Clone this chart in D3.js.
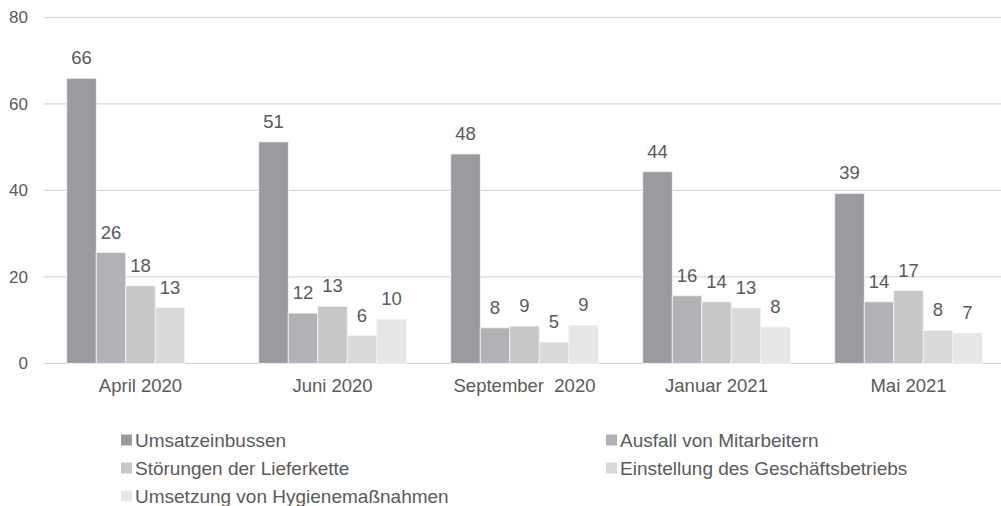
<!DOCTYPE html>
<html>
<head>
<meta charset="utf-8">
<script src="https://d3js.org/d3.v7.min.js"></script>
<style>
  body { margin: 0; background: #fff; }
  svg text { font-family: "Liberation Sans", Arial, sans-serif; fill: #5a5a5a; }
</style>
</head>
<body>
<div id="my_dataviz"></div>
<script>
// categories (note the double space in "September  2020", as in the source)
var categories = ["April 2020", "Juni 2020", "September  2020", "Januar 2021", "Mai 2021"];
var seriesNames = ["Umsatzeinbussen", "Ausfall von Mitarbeitern", "Störungen der Lieferkette",
                   "Einstellung des Geschäftsbetriebs", "Umsetzung von Hygienemaßnahmen"];

// values (labels show them rounded)
var umsatz      = [65.9, 51.2, 48.4, 44.3, 39.3];
var ausfall     = [25.6, 11.6, 8.2, 15.6, 14.2];
var stoerung    = [17.9, 13.2, 8.6, 14.2, 16.8];
var einstellung = [12.9, 6.4, 4.9, 12.8, 7.6];
var hygiene     = [null, 10.2, 8.8, 8.4, 7.0];

var yTicks = [0, 20, 40, 60, 80];
var colors = ["#9a9b9f", "#b1b2b5", "#c6c7c9", "#d8d9db", "#e6e7e9"];

var allSeries = [umsatz, ausfall, stoerung, einstellung, hygiene];

var width = 1001, height = 506;

var svg = d3.select("#my_dataviz")
  .append("svg")
  .attr("width", width)
  .attr("height", height);

// scales
var x0 = d3.scaleBand()
  .domain(categories)
  .range([44.5, 1004.5])
  .paddingInner(0.232)
  .paddingOuter(0.116);

var x1 = d3.scaleBand()
  .domain(seriesNames)
  .range([0, x0.bandwidth()])
  .padding(0);

var y = d3.scaleLinear()
  .domain([0, 80])
  .range([363.3, 17.3]);

// gridlines
svg.append("g")
  .selectAll("line")
  .data(yTicks)
  .enter()
  .append("line")
  .attr("x1", 44)
  .attr("x2", width)
  .attr("y1", function(d) { return y(d); })
  .attr("y2", function(d) { return y(d); })
  .style("stroke", "#d9d9d9")
  .style("stroke-width", 1.3);

// y axis labels
var yAxis = svg.append("g")
  .attr("transform", "translate(28,0)")
  .call(d3.axisLeft(y).tickValues(yTicks).tickSize(0).tickPadding(0));
yAxis.select(".domain").remove();
yAxis.selectAll("text")
  .style("font-size", "17px")
  .style("fill", "#5a5a5a")
  .style("font-family", "'Liberation Sans', Arial, sans-serif");

// x axis labels
var xAxis = svg.append("g")
  .attr("transform", "translate(0," + y(0) + ")")
  .call(d3.axisBottom(x0).tickSize(0).tickPadding(16));
xAxis.select(".domain").remove();
xAxis.selectAll("text")
  .style("font-size", "18.5px")
  .style("fill", "#5a5a5a")
  .style("white-space", "pre")
  .style("font-family", "'Liberation Sans', Arial, sans-serif");

// build flat rows
var rows = [];
categories.forEach(function(c, i) {
  seriesNames.forEach(function(s, j) {
    if (allSeries[j][i] != null) rows.push({cat: c, series: s, idx: j, value: allSeries[j][i]});
  });
});

// bars
svg.append("g")
  .selectAll("rect")
  .data(rows)
  .enter()
  .append("rect")
  .attr("x", function(d) { return x0(d.cat) + x1(d.series); })
  .attr("y", function(d) { return y(d.value); })
  .attr("width", x1.bandwidth())
  .attr("height", function(d) { return y(0) - y(d.value); })
  .style("fill", function(d) { return colors[d.idx]; })
  .style("stroke", "#f4f4f4")
  .style("stroke-width", 0.8);

// value labels
svg.append("g")
  .selectAll("text")
  .data(rows)
  .enter()
  .append("text")
  .attr("x", function(d) { return x0(d.cat) + x1(d.series) + x1.bandwidth() / 2; })
  .attr("y", function(d) { return y(d.value) - 14; })
  .attr("text-anchor", "middle")
  .style("font-size", "18.5px")
  .text(function(d) { return Math.round(d.value); });

// legend
var legendPos = [[121, 440], [606, 440], [121, 468], [606, 468], [121, 496]];
var legend = svg.append("g")
  .selectAll("g")
  .data(seriesNames)
  .enter()
  .append("g")
  .attr("transform", function(d, i) { return "translate(" + legendPos[i][0] + "," + legendPos[i][1] + ")"; });

legend.append("rect")
  .attr("x", 0)
  .attr("y", -5.5)
  .attr("width", 11)
  .attr("height", 11)
  .style("fill", function(d, i) { return colors[i]; });

legend.append("text")
  .attr("x", 14)
  .attr("y", 0)
  .attr("dy", "0.35em")
  .style("font-size", "19px")
  .text(function(d) { return d; });
</script>
</body>
</html>
